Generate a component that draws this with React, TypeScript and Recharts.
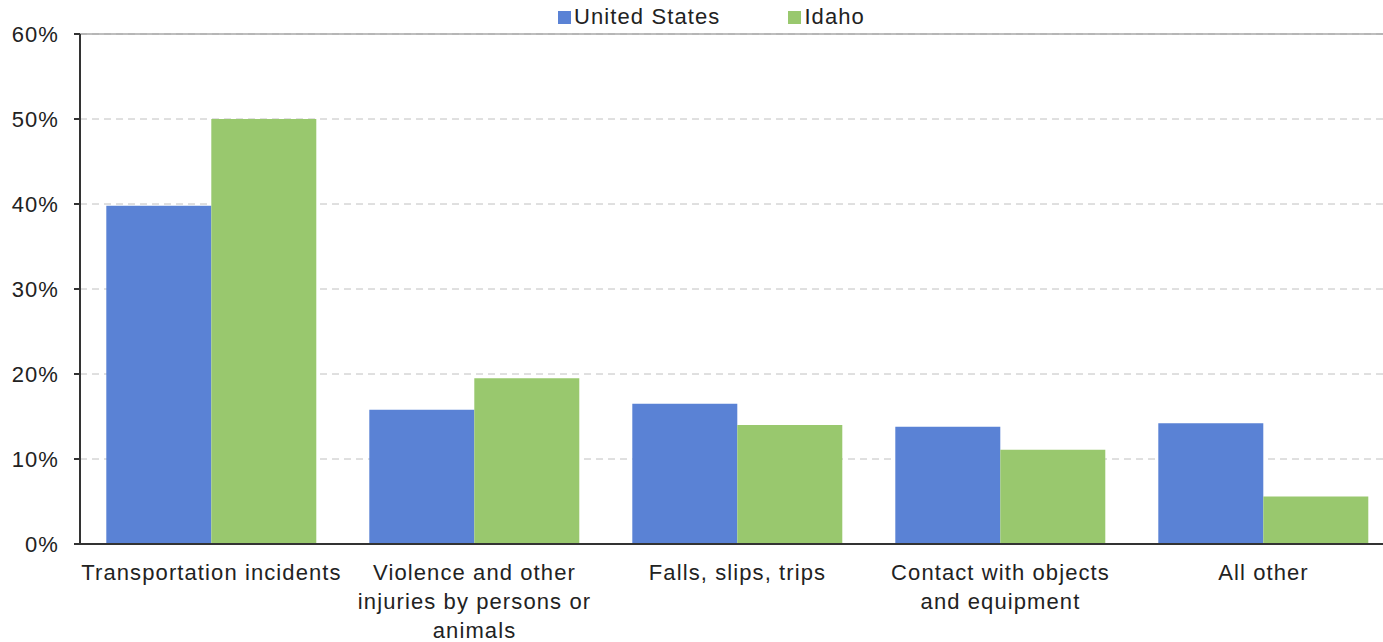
import React from 'react';
import {
  BarChart, Bar, XAxis, YAxis, CartesianGrid, ReferenceLine,
} from 'recharts';

const categories = [
  'Transportation incidents',
  'Violence and other\ninjuries by persons or\nanimals',
  'Falls, slips, trips',
  'Contact with objects\nand equipment',
  'All other',
];
const unitedStates = [39.8, 15.8, 16.5, 13.8, 14.2];
const idaho = [50.0, 19.5, 14.0, 11.1, 5.6];
const yTicks = [0, 10, 20, 30, 40, 50, 60];

const US_COLOR = '#5A82D5';
const ID_COLOR = '#99C86E';
const FONT = '"Liberation Sans", Arial, sans-serif';
const FS = 22;
const LS = 1.1;

const data = categories.map((c, i) => ({ name: c, us: unitedStates[i], id: idaho[i] }));

const CategoryTick = (props: any) => {
  const { x, y, payload } = props;
  const lines = String(payload.value).split('\n');
  return (
    <text x={x} y={y} textAnchor="middle" fill="#222" fontSize={FS} fontFamily={FONT} letterSpacing={LS}>
      {lines.map((l, i) => (
        <tspan key={i} x={x} dy={i === 0 ? 28 : 29}>{l}</tspan>
      ))}
    </text>
  );
};

// legend drawn as plain html over the chart
const LegendBox = () => (
  <div style={{
    position: 'absolute', top: 4, left: 0, width: 1383, display: 'flex', justifyContent: 'center',
    fontFamily: FONT, fontSize: FS, letterSpacing: LS, color: '#222', paddingLeft: 40, boxSizing: 'border-box',
  }}>
    {[['United States', US_COLOR], ['Idaho', ID_COLOR]].map(([label, color], i) => (
      <span key={label} style={{ display: 'flex', alignItems: 'center', marginLeft: i ? 68 : 0 }}>
        <span style={{ width: 13, height: 13, background: color, marginRight: 3, display: 'inline-block' }} />
        {label}
      </span>
    ))}
  </div>
);

export default function App() {
  return (
    <div style={{ position: 'absolute', left: 0, top: 0, width: 1383, height: 642, overflow: 'hidden', background: '#fff' }}>
      <BarChart
        width={1383}
        height={642}
        data={data}
        margin={{ top: 34, right: -12, left: 0, bottom: 0 }}
        barCategoryGap="10%"
        barGap={0}
      >
        <CartesianGrid vertical={false} stroke="#c0c0c0" strokeDasharray="7 5" />
        <ReferenceLine y={60} stroke="#a8a8a8" strokeWidth={1.5} />
        <XAxis
          dataKey="name"
          height={98}
          tick={<CategoryTick />}
          tickLine={false}
          axisLine={{ stroke: '#333', strokeWidth: 2 }}
          interval={0}
        />
        <YAxis
          width={80}
          domain={[0, 60]}
          ticks={yTicks}
          tickFormatter={(v) => `${v}%`}
          tick={{ fill: '#222', fontSize: FS, fontFamily: FONT, letterSpacing: LS }}
          tickSize={6}
          tickMargin={15}
          tickLine={{ stroke: '#333', strokeWidth: 2 }}
          axisLine={{ stroke: '#333', strokeWidth: 2 }}
        />
        <Bar dataKey="us" name="United States" fill={US_COLOR} isAnimationActive={false} />
        <Bar dataKey="id" name="Idaho" fill={ID_COLOR} isAnimationActive={false} />
      </BarChart>
      <LegendBox />
    </div>
  );
}
